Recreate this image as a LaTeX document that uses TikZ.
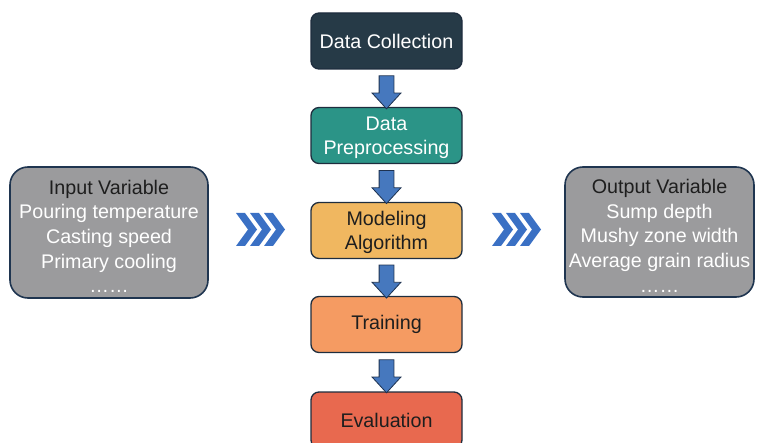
\documentclass[tikz,border=0pt]{standalone}
\usepackage{fontspec}
\setmainfont{Liberation Sans}
\usetikzlibrary{shapes.arrows,calc}
\definecolor{collectdark}{RGB}{38,58,71}
\definecolor{prepteal}{RGB}{43,148,135}
\definecolor{modelgold}{RGB}{240,183,96}
\definecolor{trainorange}{RGB}{245,155,98}
\definecolor{evalred}{RGB}{232,105,79}
\definecolor{boxline}{RGB}{30,45,62}
\definecolor{vargray}{RGB}{155,155,157}
\definecolor{varline}{RGB}{31,53,80}
\definecolor{arrblue}{RGB}{70,120,190}
\definecolor{arrline}{RGB}{30,50,80}
\definecolor{chevblue}{RGB}{58,112,196}
\definecolor{textdark}{RGB}{30,30,30}

\begin{document}
\begin{tikzpicture}[
  x=1pt,y=-1pt,
  font=\fontsize{19.7}{24.7}\selectfont,
  stage/.style={draw=boxline,line width=1.3pt,rounded corners=8pt,minimum width=151pt,minimum height=56pt,align=center,inner sep=2pt},
  var/.style={draw=varline,fill=vargray,line width=1.6pt,rounded corners=18pt,align=center,inner sep=0pt,text=white},
  downarr/.style={single arrow,draw=arrline,fill=arrblue,line width=0.8pt,shape border rotate=270,minimum width=28pt,minimum height=33pt,single arrow head extend=7pt,single arrow tip angle=85,inner sep=7pt},
  chev/.style={fill=chevblue}
]
\useasboundingbox (0,0) rectangle (757,443);
\clip (0,0) rectangle (757,443);
% ---------------- pipeline (middle column) ----------------
\node[stage,fill=collectdark,text=white] (collect) at (386.5,41) {Data Collection};
\node[stage,fill=prepteal,text=white] (prep) at (386.5,135.5) {\rule{0pt}{18pt}Data\\Preprocessing};
\node[stage,fill=modelgold,text=textdark] (model) at (386.5,230.5) {\rule{0pt}{18pt}Modeling\\Algorithm};
\node[stage,fill=trainorange,text=textdark] (train) at (386.5,324.5) {Training};
\node[stage,fill=evalred,text=textdark] (eval) at (386.5,420) {Evaluation};
\node[downarr] (a1) at ($(collect.south)!0.5!(prep.north)$) {};
\node[downarr] (a2) at ($(prep.south)!0.5!(model.north)$) {};
\node[downarr] (a3) at ($(model.south)!0.5!(train.north)$) {};
\node[downarr] (a4) at ($(train.south)!0.5!(eval.north)$) {};
% ---------------- variables (sides) ----------------
\node[var,minimum width=198pt,minimum height=131pt] (inp) at (109,232.5)
  {\rule{0pt}{22pt}\textcolor{textdark}{Input Variable}\\Pouring temperature\\Casting speed\\Primary cooling\\……};
\node[var,minimum width=189pt,minimum height=130pt] (outp) at (659.5,232)
  {\rule{0pt}{22pt}\textcolor{textdark}{Output Variable}\\Sump depth\\Mushy zone width\\Average grain radius\\……};
% ---------------- chevrons ----------------
\coordinate (lchev) at (236,229.5);
\coordinate (rchev) at (492,229.5);
\foreach \c in {lchev,rchev}
  \foreach \i in {0,1,2}
    \fill[chev] ($(\c)+(14*\i,0)$) ++(0,-16.5) -- ++(9,0) -- ++(12,16.5) -- ++(-12,16.5) -- ++(-9,0) -- ++(12,-16.5) -- cycle;
\end{tikzpicture}
\end{document}
